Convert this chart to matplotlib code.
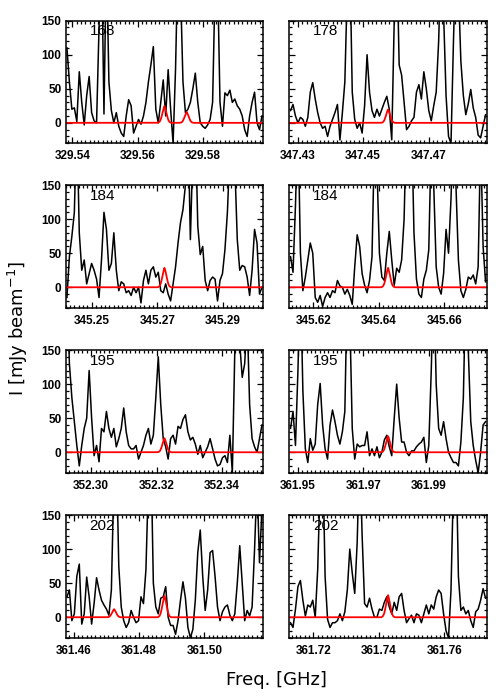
import numpy as np
import matplotlib
matplotlib.use('Agg')
import matplotlib.pyplot as plt
from matplotlib.ticker import MultipleLocator, AutoMinorLocator

plt.rcParams['font.family'] = ['Liberation Sans', 'DejaVu Sans']

# panel labels, central frequency of each window [GHz] and the labelled ticks
labels = ['168', '178', '184', '184', '195', '195', '202', '202']
centres = [329.5682, 347.4576, 345.2722, 345.6428, 352.3224, 361.9776, 361.4878, 361.7428]
half = 0.0302
xticks = [[329.54, 329.56, 329.58], [347.43, 347.45, 347.47],
          [345.25, 345.27, 345.29], [345.62, 345.64, 345.66],
          [352.30, 352.32, 352.34], [361.95, 361.97, 361.99],
          [361.46, 361.48, 361.50], [361.72, 361.74, 361.76]]

# observed spectra (mJy/beam), 80 channels across each window
spec_168 = [110, 60, 20, 22, 2, 75, 30, -3, 40, 68, 15, 3, 0, 140, 260, 13, 250, 60, 18, 0,
            15, -5, -15, -20, 10, 34, 25, -15, -5, 5, -2, 10, 30, 60, 85, 112, 20, 0, 30, 63,
            10, 78, 20, -30, 80, 250, 200, 60, 15, 20, 30, 50, 73, 30, 0, -5, -8, -3, 5, 30,
            200, 220, 30, -5, 44, 40, 48, 30, 35, 25, 20, 10, -10, -20, 10, 30, 45, 0, -10, 10]
spec_178 = [18, 27, 10, 0, 8, 5, -5, 8, 45, 59, 35, 15, 0, -8, -5, -20, -5, 5, 15, 27,
            -25, 15, 60, 200, 250, 45, 5, -8, 0, -15, 25, 100, 45, 18, 8, 20, 10, 20, 30, 39,
            20, -25, 150, 260, 85, 70, 30, -10, -5, 3, 8, 45, 56, 35, 75, 50, 18, 3, 25, 45,
            120, 250, 160, 40, -20, -30, 120, 250, 200, 90, 40, 12, 28, 49, 22, 8, -18, -22, -5, 12]
spec_184a = [-15, 45, 75, 110, 250, 80, 25, 40, 5, 20, 35, 25, 12, -15, 40, 110, 85, 25, 35, 80,
             25, -5, 8, 5, -8, -5, -12, 0, -8, 0, -23, 10, 25, 5, 25, 30, 15, 22, -5, -8,
             5, -10, -20, 5, 30, 65, 95, 114, 150, 250, 70, 200, 250, 90, 48, 60, 10, -5, 10, 15,
             12, -20, 10, 20, 55, 110, 200, 260, 180, 70, 25, 32, 30, 15, -12, 25, 85, 65, -10, 0]
spec_184b = [45, 22, 120, 250, 50, -5, 15, 40, 65, 50, -15, -22, -12, -28, -15, -8, -15, -5, -8, 10,
             2, 0, -10, -3, -12, -25, 30, 77, 60, 20, 3, -8, 10, 45, 220, 180, 50, 15, 10, 50,
             82, 40, 3, 28, 22, 40, 100, 250, 200, 250, 80, 12, -10, -15, 12, 25, 55, 220, 150, 30,
             0, -10, 20, 85, 50, 130, 250, 150, 40, -5, -15, -3, 15, 12, 18, 5, 30, 220, 60, 8]
spec_195a = [250, 130, 80, 45, 10, -20, 10, 35, 50, 120, 50, -5, 10, -14, 35, 30, 60, 35, 22, 35,
             8, 20, 35, 65, 30, 10, 5, 5, 10, -10, 0, 10, 25, 35, 12, 25, 80, 140, 70, 20,
             8, -10, 20, 25, 12, 38, 35, 48, 55, 30, 18, 22, 12, -3, 10, -8, 0, 8, 20, 5,
             -10, -20, -18, -8, -5, -15, 25, -30, 150, 260, 160, 110, 130, 200, 70, 20, 8, 0, 20, 40]
spec_195b = [35, 60, 10, 120, 260, 90, 5, -15, 20, 3, 12, 70, 101, 40, 5, -10, 40, 62, 45, 25,
             12, 30, 60, 250, 200, 35, -10, 12, 8, 10, 10, 30, -5, 5, -5, 8, -8, 0, 18, 25,
             8, -5, 50, 100, 50, 15, 15, 0, -5, 2, 2, 8, 12, 15, 22, -15, 10, 120, 260, 100,
             35, 25, 45, 20, 0, -8, -15, -15, -20, 15, 80, 250, 150, 45, 10, -12, -30, 0, 40, 45]
spec_202a = [30, 40, -5, 5, 60, 78, -10, 5, 59, 30, -10, 20, 58, 40, 25, 18, 12, 3, 40, 200,
             250, 75, 15, -5, -15, -8, 10, 0, -8, -5, 30, 20, 70, 200, 250, 50, 15, 5, 28, 30,
             45, 0, -12, -12, -25, -5, 25, 52, 28, -15, -30, -18, 25, 95, 128, 60, 10, 40, 95, 98,
             60, 15, -5, 8, 15, 18, 3, -5, 5, 50, 105, 50, -5, 10, 2, 15, 100, 200, 80, 160]
spec_202b = [-8, -15, 12, 45, 54, 25, 2, 18, 15, 25, 0, 70, 200, 250, 60, -3, -15, -8, -8, -5,
             5, -5, 8, 40, 100, 65, 35, 110, 250, 120, 20, 15, 28, 12, 0, 0, 12, 10, 22, 30,
             15, 5, 22, 10, 30, 35, 10, -8, -2, 3, -8, 5, 3, -8, 5, 18, 5, 18, 12, 30,
             40, 35, 5, -20, -30, 40, 200, 250, 60, 10, 15, 5, 10, -5, -15, 8, 12, 25, 42, 28]
spectra = [spec_168, spec_178, spec_184a, spec_184b, spec_195a, spec_195b, spec_202a, spec_202b]

# model lines: positions [GHz] and peak intensities (mJy/beam)
line_pos = [[329.5682, 329.5750], [347.4576], [345.2722], [345.6428],
            [352.3224], [361.9776], [361.4724, 361.4878, 361.7175], [361.7428]]
line_amp = [[25, 16], [20], [29], [29], [21], [24], [12, 32, 2], [33]]
# line profile, sampled every 0.3 MHz
prof = [0.0, 0.02, 0.06, 0.16, 0.34, 0.58, 0.82, 1.0, 0.82, 0.58, 0.34, 0.16, 0.06, 0.02, 0.0]
prof_off = (np.arange(len(prof)) - 7) * 0.0003

fig = plt.figure(figsize=(5, 7), dpi=100)
lefts = [0.1314, 0.5786]
bottoms = [0.7953, 0.5604, 0.3247, 0.0890]
w, h = 0.395, 0.1752

for i in range(8):
    row, col = divmod(i, 2)
    ax = fig.add_axes([lefts[col], bottoms[row], w, h])
    lo, hi = centres[i] - half, centres[i] + half
    n = len(spectra[i])
    f = lo + (np.arange(n) + 0.5) * (hi - lo) / n
    ax.plot(f, spectra[i], color='k', lw=1.1)

    fm = np.linspace(lo, hi, 800)
    model = np.zeros_like(fm)
    for p, a in zip(line_pos[i], line_amp[i]):
        model += a * np.interp(fm, p + prof_off, prof, left=0, right=0)
    ax.plot(fm, model, color='red', lw=1.3)

    ax.set_xlim(lo, hi)
    ax.set_ylim(-30, 150)
    ax.set_xticks(xticks[i])
    ax.set_xticklabels(['%.2f' % t for t in xticks[i]])
    ax.xaxis.set_minor_locator(AutoMinorLocator(15))
    ax.set_yticks([0, 50, 100, 150])
    ax.yaxis.set_minor_locator(MultipleLocator(10))
    ax.tick_params(which='both', direction='in', top=True, right=True, width=0.9)
    ax.tick_params(which='major', length=4.5, labelsize=8.5)
    ax.tick_params(which='minor', length=2.2)
    ax.tick_params(axis='x', pad=5)
    ax.tick_params(axis='y', pad=3)
    if col == 1:
        ax.set_yticklabels([])
    for lab in ax.get_xticklabels() + ax.get_yticklabels():
        lab.set_fontweight('bold')
    for s in ax.spines.values():
        s.set_linewidth(1.1)
    ax.text(0.185, 0.913, labels[i], transform=ax.transAxes, ha='center', va='center',
            fontsize=11)

fig.text(0.036, 0.531, r'I [mJy beam$^{-1}$]', rotation=90, ha='center', va='center',
         fontsize=13, family='DejaVu Sans')
fig.text(0.553, 0.029, 'Freq. [GHz]', ha='center', va='center', fontsize=13,
         family='DejaVu Sans')

plt.savefig('out.png', dpi=100)
